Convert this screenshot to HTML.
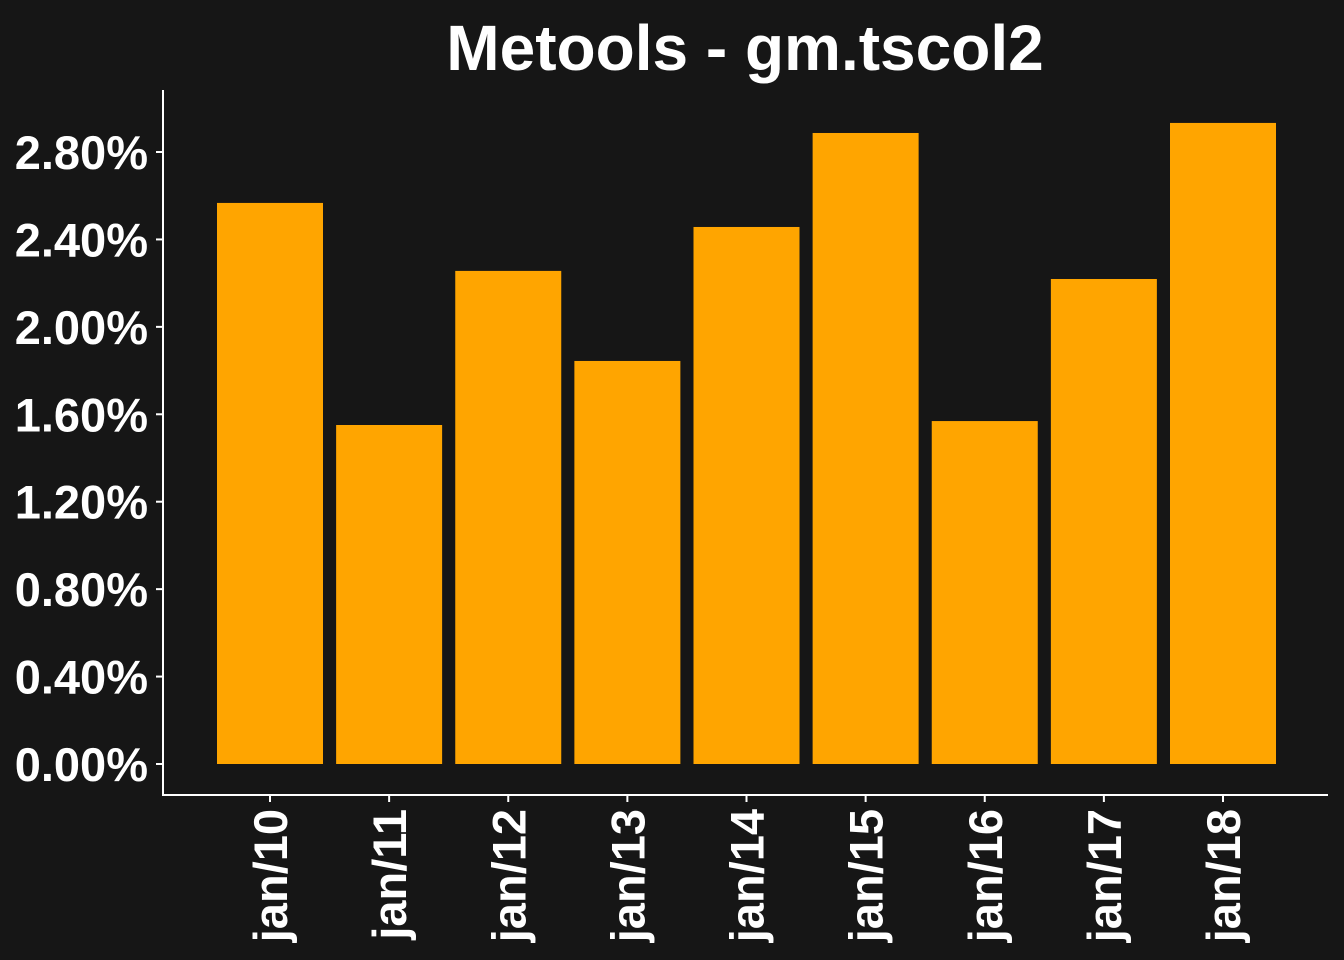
<!DOCTYPE html>
<html><head><meta charset="utf-8"><style>
html,body{margin:0;padding:0;background:#161616;}
svg{display:block;}
text{font-family:"Liberation Sans",Arial,sans-serif;font-weight:bold;fill:#fff;}
</style></head><body>
<svg id="chart" width="1344" height="960">
<rect width="1344" height="960" fill="#161616"/>
<text x="745" y="70" font-size="64" text-anchor="middle">Metools - gm.tscol2</text>
<g id="bars"></g><g id="yaxis"></g><g id="xaxis"></g>
</svg>
<script>
const categories=["jan/10","jan/11","jan/12","jan/13","jan/14","jan/15","jan/16","jan/17","jan/18"];
const values=[2.567,1.551,2.256,1.844,2.457,2.887,1.569,2.219,2.933];
const yTicks=[0,0.4,0.8,1.2,1.6,2.0,2.4,2.8];
const yTickLabels=["0.00%","0.40%","0.80%","1.20%","1.60%","2.00%","2.40%","2.80%"];
const NS="http://www.w3.org/2000/svg";
function y(v){return 764-v*(764-152)/2.8;}
function xc(i){return 270+i*119.125;}
const bw=106;
function mk(tag,attrs,parent){const e=document.createElementNS(NS,tag);for(const k in attrs)e.setAttribute(k,attrs[k]);parent.appendChild(e);return e;}
const gb=document.getElementById('bars'),gy=document.getElementById('yaxis'),gx=document.getElementById('xaxis');
values.forEach((v,i)=>{const r=mk('rect',{x:xc(i)-bw/2,y:y(v),width:bw,height:y(0)-y(v),fill:'#FFA500'},gb);

});
const yl=mk('line',{x1:163,y1:90,x2:163,y2:796,stroke:'#fff','stroke-width':2},gy);


yTicks.forEach((t,i)=>{const l=mk('line',{x1:156,x2:163,y1:y(t),y2:y(t),stroke:'#fff','stroke-width':2},gy);


const tx=mk('text',{x:148,y:y(t)+17,'font-size':47,'text-anchor':'end'},gy);tx.textContent=yTickLabels[i];

});
const xl=mk('line',{x1:162,y1:795,x2:1328,y2:795,stroke:'#fff','stroke-width':2},gx);


categories.forEach((c,i)=>{const l=mk('line',{x1:xc(i),x2:xc(i),y1:795,y2:802,stroke:'#fff','stroke-width':2},gx);


const tx=mk('text',{x:0,y:0,'font-size':47,'text-anchor':'end',transform:`translate(${xc(i)+17},809) rotate(-90)`},gx);tx.textContent=c;

});
</script>
</body></html>
